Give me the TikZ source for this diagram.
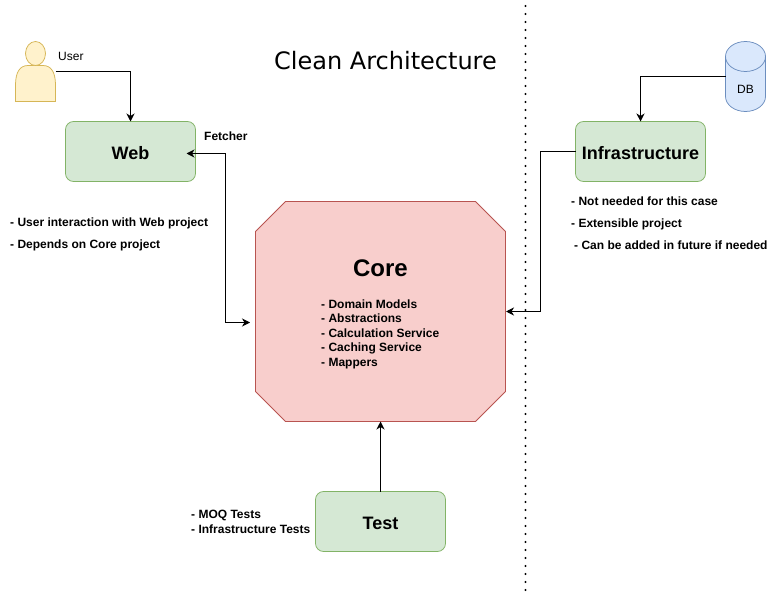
\documentclass[tikz,border=0pt]{standalone}
\usepackage{fontspec}
\setmainfont{Liberation Sans}
\newfontfamily\titlefont{DejaVu Sans}
\usetikzlibrary{arrows.meta,calc}
\definecolor{grfill}{HTML}{D5E8D4}
\definecolor{grline}{HTML}{82B366}
\definecolor{rdfill}{HTML}{F8CECC}
\definecolor{rdline}{HTML}{B85450}
\definecolor{blfill}{HTML}{DAE8FC}
\definecolor{blline}{HTML}{6C8EBF}
\definecolor{yefill}{HTML}{FFF2CC}
\definecolor{yeline}{HTML}{D6B656}
\tikzset{
 x=1pt,y=-1pt,
 project/.style={draw=grline,fill=grfill,rounded corners=8pt,minimum width=130pt,minimum height=60pt,inner sep=0pt,outer sep=0pt,line width=0.75pt},
 boxlabel/.style={inner sep=0pt,font=\fontsize{18}{20}\selectfont\bfseries},
 note/.style={anchor=west,inner sep=0pt,align=left,font=\fontsize{12}{14.5}\selectfont\bfseries},
 plain/.style={inner sep=0pt,font=\fontsize{12}{14}\selectfont},
 conn/.style={line width=1pt,-{Stealth[length=8pt,width=8pt,inset=2.5pt]}},
 ghost/.style={inner sep=0pt,outer sep=0pt},
}
\begin{document}
\begin{tikzpicture}
\useasboundingbox (0,0) rectangle (781,593);
\draw[line width=2.2pt,line cap=round,dash pattern=on 0pt off 8pt] (525.5,6) -- (525.5,592);

\node[font=\titlefont\fontsize{24}{28}\selectfont] (title) at (385.5,61) {Clean Architecture};

% user
\node[ghost,minimum width=40pt,minimum height=60pt] (user) at (35.5,71.5) {};
\draw[draw=yeline,fill=yefill,line width=0.75pt]
  (15.5,101.5) -- (15.5,85) .. controls (15.5,72) and (20,65.5) .. (28,65.5) -- (43,65.5) .. controls (51,65.5) and (55.5,72) .. (55.5,85) -- (55.5,101.5) -- cycle;
\draw[draw=yeline,fill=yefill,line width=0.75pt] (35.5,53.5) ellipse [x radius=10pt,y radius=12pt];
\node[plain,anchor=west] (userlabel) at (58,56) {User};

% db
\node[ghost,minimum width=40pt,minimum height=70pt] (db) at (745.5,76.5) {};
\draw[draw=blline,fill=blfill,line width=0.75pt]
  (725.5,56.5) -- (725.5,96.5) arc[start angle=180,end angle=360,x radius=20pt,y radius=15pt] -- (765.5,56.5) arc[start angle=0,end angle=180,x radius=20pt,y radius=15pt] -- cycle;
\draw[draw=blline,line width=0.75pt] (725.5,56.5) arc[start angle=180,end angle=360,x radius=20pt,y radius=15pt];
\node[plain] (dblabel) at (745.5,89) {DB};

% boxes
\node[project] (web) at (130.5,151.5) {};
\node[boxlabel] (weblabel) at (130.5,153) {Web};
\node[project] (infra) at (640.5,151.5) {};
\node[boxlabel] (infralabel) at (640.5,153) {Infrastructure};
\node[project] (test) at (380.5,521.5) {};
\node[boxlabel] (testlabel) at (380.5,523) {Test};
\node[ghost,minimum width=250pt,minimum height=220pt] (core) at (380.5,311.5) {};
\draw[draw=rdline,fill=rdfill,line width=0.75pt]
  (285.5,201.5) -- (475.5,201.5) -- (505.5,231.5) -- (505.5,391.5) -- (475.5,421.5) -- (285.5,421.5) -- (255.5,391.5) -- (255.5,231.5) -- cycle;
\node[font=\fontsize{24}{28}\selectfont\bfseries] (corelabel) at (380.5,268) {Core};

% notes
\node[note] (fetcher) at (204,136) {Fetcher};
\node[note] (w1) at (10,223) {- User interaction with Web project};
\node[note] (w2) at (10,245) {- Depends on Core project};
\node[note] (i1) at (571,201.5) {- Not needed for this case};
\node[note] (i2) at (571,224.5) {- Extensible project};
\node[note] (i3) at (574,245) {- Can be added in future if needed};
\node[note] (corelist) at (321,334) {- Domain Models\\- Abstractions\\- Calculation Service\\- Caching Service\\- Mappers};
\node[note] (testlist) at (191,522) {- MOQ Tests\\- Infrastructure Tests};

% connectors
\draw[conn] (user.east) -| (web.north);
\draw[conn] (db.west) -| (infra.north);
\draw[conn] (test.north) -- (core.south);
\coordinate (webend) at (186.5,153.5);
\coordinate (coreleft) at (250,322.5);
\coordinate (coreright) at (506,311.5);
\draw[conn,{Stealth[length=8pt,width=8pt,inset=2.5pt]}-{Stealth[length=8pt,width=8pt,inset=2.5pt]}] (webend) -- (225.5,153.5) -- (225.5,322.5) -- (coreleft);
\draw[conn] (infra.west) -- (540.5,151.5) -- (540.5,311.5) -- (coreright);
\end{tikzpicture}
\end{document}
